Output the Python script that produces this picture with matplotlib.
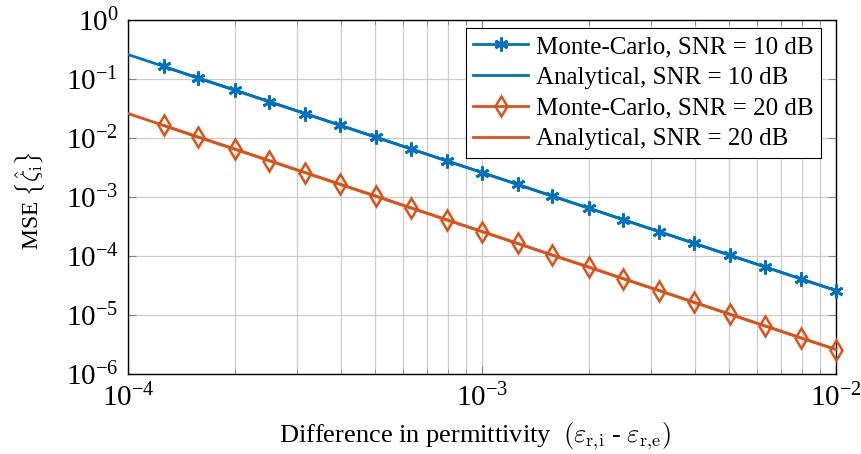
import matplotlib
matplotlib.use("Agg")
import matplotlib.pyplot as plt
from matplotlib.ticker import LogLocator, NullLocator, LogFormatterMathtext

plt.rcParams['mathtext.fontset'] = 'cm'
plt.rcParams['font.family'] = ['Liberation Serif', 'DejaVu Serif']

# Data
x_mc = [1.26e-4, 1.58e-4, 2.0e-4, 2.51e-4, 3.16e-4, 3.98e-4, 5.01e-4, 6.31e-4, 7.94e-4, 1.0e-3,
        1.26e-3, 1.58e-3, 2.0e-3, 2.51e-3, 3.16e-3, 3.98e-3, 5.01e-3, 6.31e-3, 7.94e-3, 1.0e-2]
mc_10dB = [0.163, 0.103, 0.065, 0.041, 0.026, 0.0163, 0.0103, 0.0065, 0.0041, 0.0026,
           1.63e-3, 1.03e-3, 6.5e-4, 4.1e-4, 2.6e-4, 1.63e-4, 1.03e-4, 6.5e-5, 4.1e-5, 2.6e-5]
mc_20dB = [0.0163, 0.0103, 0.0065, 0.0041, 0.0026, 1.63e-3, 1.03e-3, 6.5e-4, 4.1e-4, 2.6e-4,
           1.63e-4, 1.03e-4, 6.5e-5, 4.1e-5, 2.6e-5, 1.63e-5, 1.03e-5, 6.5e-6, 4.1e-6, 2.6e-6]
x_an = [1.0e-4, 1.0e-3, 1.0e-2]
an_10dB = [0.26, 2.6e-3, 2.6e-5]
an_20dB = [0.026, 2.6e-4, 2.6e-6]
labels = ["Monte-Carlo, SNR = 10 dB", "Analytical, SNR = 10 dB",
          "Monte-Carlo, SNR = 20 dB", "Analytical, SNR = 20 dB"]

blue = '#0072BD'
orange = '#D95319'

fig = plt.figure(figsize=(8.62, 4.54), dpi=100)
ax = fig.add_axes([128/862, 1-374/454, 708/862, 354/454])

ax.plot(x_an, an_10dB, color=blue, lw=2, label=labels[1], zorder=3)
ax.plot(x_an, an_20dB, color=orange, lw=2, label=labels[3], zorder=3)
ax.plot(x_mc, mc_10dB, color=blue, lw=2, marker=(6, 2, 0), ms=10, mew=2, label=labels[0],
        zorder=4, clip_on=False)
ax.plot(x_mc, mc_20dB, color=orange, lw=2, marker='d', ms=10, mew=1.8, mfc='none', label=labels[2],
        zorder=4, clip_on=False)

ax.set_xscale('log')
ax.set_yscale('log')
ax.set_xlim(1e-4, 1e-2)
ax.set_ylim(1e-6, 1)
ax.xaxis.set_major_locator(LogLocator(base=10))
ax.xaxis.set_minor_locator(LogLocator(base=10, subs=range(2, 10)))
ax.yaxis.set_major_locator(LogLocator(base=10, numticks=10))
ax.yaxis.set_minor_locator(NullLocator())
ax.xaxis.set_major_formatter(LogFormatterMathtext())
ax.yaxis.set_major_formatter(LogFormatterMathtext())

ax.grid(True, which='major', color='#cccccc', lw=0.9)
ax.grid(True, which='minor', axis='x', color='#cccccc', lw=0.9)
ax.set_axisbelow(True)
ax.tick_params(which='both', direction='in', top=True, right=True, labelsize=21, color='#888888')
ax.tick_params(which='major', length=6)
ax.tick_params(which='minor', length=3.5)
ax.tick_params(axis='x', pad=7)
ax.tick_params(axis='y', pad=7)
for s in ax.spines.values():
    s.set_linewidth(1.0)

ax.set_xlabel(r"Difference in permittivity  $(\varepsilon_{\mathrm{r{,}i}}$ - $\varepsilon_{\mathrm{r{,}e}})$",
              fontsize=19, va='baseline')
ax.xaxis.set_label_coords(0.49, (374-442)/354)
ax.set_ylabel(r"MSE $\{\hat{\zeta}_{\mathrm{i}}\}$", fontsize=17, va='center')
ax.yaxis.set_label_coords((30-128)/708, 0.49)

handles, labs = ax.get_legend_handles_labels()
order = [labs.index(l) for l in labels]
leg = ax.legend([handles[i] for i in order], [labs[i] for i in order],
                loc='upper right', bbox_to_anchor=((821-128)/708, (374-28)/354),
                fontsize=18, frameon=True, fancybox=False,
                edgecolor='black', framealpha=1, handlelength=2.2, borderpad=0.3,
                labelspacing=0.33, handletextpad=0.3, borderaxespad=0.0)
leg.get_frame().set_linewidth(0.8)
leg.set_zorder(10)

fig.savefig('out.png', dpi=100)
